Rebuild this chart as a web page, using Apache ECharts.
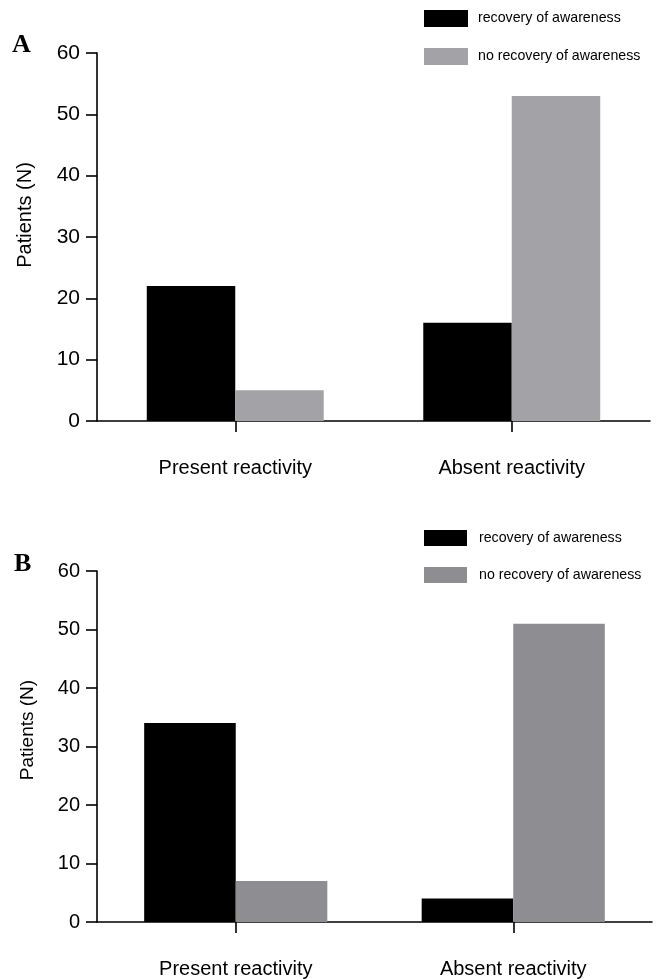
<!DOCTYPE html>
<html>
<head>
<meta charset="utf-8">
<script src="https://cdn.jsdelivr.net/npm/echarts@6/dist/echarts.min.js"></script>
<style>
html,body{margin:0;padding:0;background:#fff;}
#c{width:660px;height:979px;}
</style>
</head>
<body>
<div id="c"></div>
<script>
const categories = ['Present reactivity', 'Absent reactivity'];
const seriesNames = ['recovery of awareness', 'no recovery of awareness'];
const recoveryA = [22, 16];
const noRecoveryA = [5, 53];
const recoveryB = [34, 4];
const noRecoveryB = [7, 51];
const yTicks = [0, 10, 20, 30, 40, 50, 60];
const panelLabels = ['A', 'B'];
const yAxisTitle = 'Patients (N)';

const BLACK = '#000000';
const GREY_A = '#a3a2a7';
const GREY_B = '#8e8d92';
const FONT = '"Liberation Sans", Arial, sans-serif';

const chart = echarts.init(document.getElementById('c'), null, {renderer: 'canvas'});

function xAx(gi, fs) {
  return {
    type: 'category', gridIndex: gi, data: categories,
    axisLine: {lineStyle: {color: '#000', width: 1.6}},
    axisTick: {show: true, alignWithLabel: true, length: 11, lineStyle: {color: '#000', width: 1.6}},
    axisLabel: {color: '#000', fontSize: fs, fontFamily: FONT, margin: 37}
  };
}
function yAx(gi, fs) {
  return {
    type: 'value', gridIndex: gi, min: yTicks[0], max: yTicks[yTicks.length - 1], interval: 10,
    splitLine: {show: false},
    axisLine: {show: true, lineStyle: {color: '#000', width: 1.6}},
    axisTick: {show: true, length: 11, lineStyle: {color: '#000', width: 1.6}},
    axisLabel: {color: '#000', fontSize: fs, fontFamily: FONT, margin: 17}
  };
}

const option = {
  animation: false,
  backgroundColor: '#fff',
  grid: [
    {left: 97, right: 10, top: 53, height: 368},
    {left: 97, right: 8, top: 571, height: 351}
  ],
  xAxis: [xAx(0, 20), xAx(1, 20)],
  yAxis: [yAx(0, 21), yAx(1, 20)],
  legend: [
    {
      orient: 'vertical', left: 424, top: 10, padding: 0, itemWidth: 44, itemHeight: 17, itemGap: 21,
      selectedMode: false, icon: 'rect',
      textStyle: {color: '#000', fontSize: 14.2, fontFamily: FONT, padding: [0, 0, 0, 5]},
      data: [
        {name: seriesNames[0], itemStyle: {color: BLACK}},
        {name: seriesNames[1], itemStyle: {color: GREY_A}}
      ]
    },
    {
      orient: 'vertical', left: 424, top: 530, padding: 0, itemWidth: 43, itemHeight: 16, itemGap: 21,
      selectedMode: false, icon: 'rect',
      textStyle: {color: '#000', fontSize: 14.2, fontFamily: FONT, padding: [0, 0, 0, 7]},
      data: [
        {name: seriesNames[0], itemStyle: {color: BLACK}},
        {name: seriesNames[1], itemStyle: {color: GREY_B}}
      ]
    }
  ],
  series: [
    {name: seriesNames[0], type: 'bar', xAxisIndex: 0, yAxisIndex: 0, data: recoveryA,
     barWidth: '32%', barGap: '0%', itemStyle: {color: BLACK}},
    {name: seriesNames[1], type: 'bar', xAxisIndex: 0, yAxisIndex: 0, data: noRecoveryA,
     barWidth: '32%', barGap: '0%', itemStyle: {color: GREY_A}},
    {name: seriesNames[0], type: 'bar', xAxisIndex: 1, yAxisIndex: 1, data: recoveryB,
     barWidth: '33%', barGap: '0%', itemStyle: {color: BLACK}},
    {name: seriesNames[1], type: 'bar', xAxisIndex: 1, yAxisIndex: 1, data: noRecoveryB,
     barWidth: '33%', barGap: '0%', itemStyle: {color: GREY_B}}
  ],
  graphic: [
    {type: 'text', left: 12, top: 32, style: {text: panelLabels[0], font: 'bold 26px "Liberation Serif", "Times New Roman", serif', fill: '#000'}},
    {type: 'text', left: 14, top: 551, style: {text: panelLabels[1], font: 'bold 26px "Liberation Serif", "Times New Roman", serif', fill: '#000'}},
    {type: 'text', x: 25, y: 215, rotation: Math.PI / 2,
     style: {text: yAxisTitle, font: '20px "Liberation Sans", Arial, sans-serif', fill: '#000', align: 'center', verticalAlign: 'middle'}},
    {type: 'text', x: 28, y: 730, rotation: Math.PI / 2,
     style: {text: yAxisTitle, font: '19px "Liberation Sans", Arial, sans-serif', fill: '#000', align: 'center', verticalAlign: 'middle'}}
  ]
};
chart.setOption(option);
</script>
</body>
</html>
